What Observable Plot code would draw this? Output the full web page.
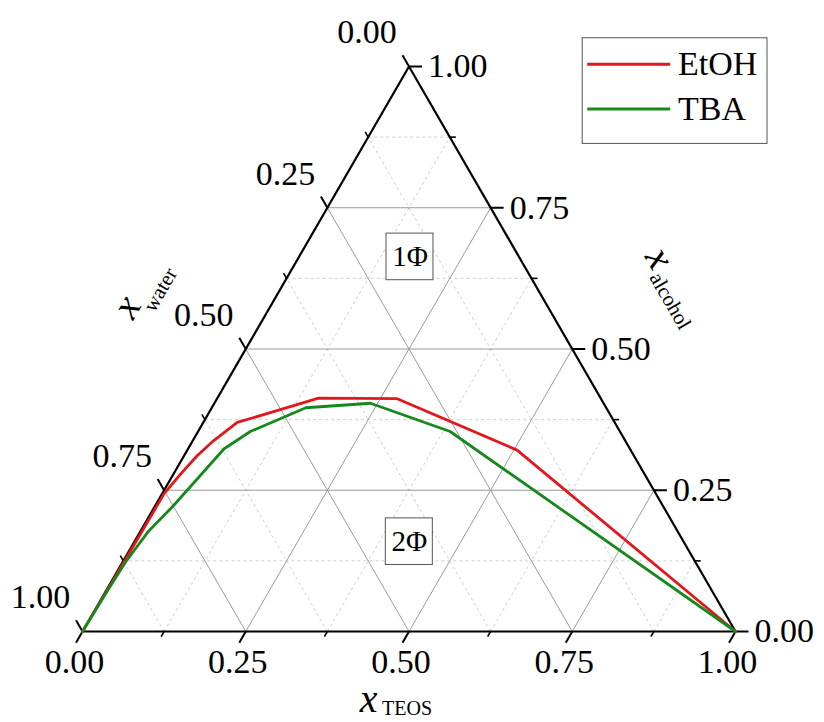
<!DOCTYPE html>
<html><head><meta charset="utf-8">
<script src="https://cdn.jsdelivr.net/npm/d3@7"></script>
<script src="https://cdn.jsdelivr.net/npm/@observablehq/plot@0.6"></script>
<style>html,body{margin:0;padding:0;background:#fff}#chart svg{display:block}</style>
</head><body><div id="chart"></div>
<script>
// ---- data (ternary fractions: TEOS, alcohol; water = 1 - TEOS - alcohol) ----
const tickValues = [0, 0.25, 0.5, 0.75, 1];
const tickLabels = ["0.00", "0.25", "0.50", "0.75", "1.00"];
const minorValues = [0.125, 0.375, 0.625, 0.875];
const gridMajor = [0.25, 0.5, 0.75];
const seriesNames = ["EtOH", "TBA"];
const seriesColors = ["#e3161c", "#17891c"];
const etohTEOS    = [0, 0.002, 0.003, 0.011, 0.020, 0.032, 0.052, 0.155, 0.276, 0.505, 1];
const etohAlcohol = [0, 0.120, 0.244, 0.279, 0.311, 0.338, 0.370, 0.413, 0.412, 0.321, 0];
const tbaTEOS     = [0, 0.002, 0.0045, 0.012, 0.028, 0.055, 0.080, 0.144, 0.239, 0.386, 1];
const tbaAlcohol  = [0, 0.070, 0.123, 0.176, 0.223, 0.323, 0.354, 0.396, 0.404, 0.354, 0];
const phaseLabels = ["1Φ", "2Φ"];
const phaseTEOS = [0.170, 0.421];
const phaseAlcohol = [0.663, 0.159];

// ---- layout ----
const W = 824, H = 722;
const mL = 82, mR = 89, mT = 66, mB = 91;
const side = W - mL - mR;           // px per unit along x
const e = (px) => px / side;        // pixel length -> data units along a side
const X = (t, a) => t + a / 2;      // ternary -> cartesian

// series table
const curves = [];
[[etohTEOS, etohAlcohol], [tbaTEOS, tbaAlcohol]].forEach(([ts, as], i) => {
  ts.forEach((t, j) => curves.push({series: seriesNames[i], x: X(t, as[j]), y: as[j]}));
});

// grid segments
function gridSegs(vals) {
  const out = [];
  for (const v of vals) {
    out.push({x1: X(v, 0), y1: 0, x2: X(v, 1 - v), y2: 1 - v});   // TEOS = v
    out.push({x1: X(0, v), y1: v, x2: X(1 - v, v), y2: v});       // alcohol = v
    out.push({x1: X(v, 0), y1: 0, x2: X(0, v), y2: v});           // water = 1 - v
  }
  return out;
}
const edges = [
  {x1: 0, y1: 0, x2: 1, y2: 0},
  {x1: 1, y1: 0, x2: 0.5, y2: 1},
  {x1: 0.5, y1: 1, x2: 0, y2: 0}
];

// ticks
function tickSegs(vals, len) {
  const d = e(len), out = [];
  for (const v of vals) {
    out.push({x1: X(v, 0), y1: 0, x2: X(v, 0) - d / 2, y2: -d});          // TEOS (bottom)
    out.push({x1: X(1 - v, v), y1: v, x2: X(1 - v, v) + d, y2: v});       // alcohol (right)
    const c = 1 - v;                                                        // water = v
    out.push({x1: c / 2, y1: c, x2: c / 2 - d / 2, y2: c + d});            // water (left)
  }
  return out;
}
const bottomLabels = tickValues.map((v, i) => ({x: X(v, 0), y: 0, label: tickLabels[i]}));
const rightLabels = tickValues.map((v, i) => ({x: X(1 - v, v), y: v, label: tickLabels[i]}));
const leftLabels = tickValues.map((v, i) => ({x: (1 - v) / 2, y: 1 - v, label: tickLabels[i]}));

const phases = phaseLabels.map((l, i) => ({label: l, x: X(phaseTEOS[i], phaseAlcohol[i]), y: phaseAlcohol[i]}));
const bw = e(23.5), bh = 23.3 / (H - mT - mB);

const legend = seriesNames.map((n, i) => ({name: n, color: seriesColors[i], y: i === 0 ? 1.004 : 0.925}));

const serif = "'Liberation Serif', 'Times New Roman', serif";

const chart = Plot.plot({
  width: W, height: H,
  marginLeft: mL, marginRight: mR, marginTop: mT, marginBottom: mB,
  x: {domain: [0, 1], axis: null},
  y: {domain: [0, 1], axis: null},
  style: {background: "#fff", fontFamily: serif, fontSize: "34px", overflow: "visible"},
  marks: [
    Plot.link(gridSegs(minorValues), {x1: "x1", y1: "y1", x2: "x2", y2: "y2", stroke: "#c8c8c8", strokeWidth: 0.9, strokeDasharray: "3,3"}),
    Plot.link(gridSegs(gridMajor), {x1: "x1", y1: "y1", x2: "x2", y2: "y2", stroke: "#9a9a9a", strokeWidth: 1}),
    Plot.link(tickSegs(tickValues, 13), {x1: "x1", y1: "y1", x2: "x2", y2: "y2", stroke: "#000", strokeWidth: 2}),
    Plot.link(tickSegs(minorValues, 6), {x1: "x1", y1: "y1", x2: "x2", y2: "y2", stroke: "#000", strokeWidth: 1.6}),
    Plot.link(edges, {x1: "x1", y1: "y1", x2: "x2", y2: "y2", stroke: "#000", strokeWidth: 2.2}),
    Plot.line(curves, {x: "x", y: "y", z: "series", stroke: (d) => seriesColors[seriesNames.indexOf(d.series)], strokeWidth: 2.8, strokeLinejoin: "round"}),
    // tick labels
    Plot.text(bottomLabels, {x: "x", y: "y", text: "label", dx: -8, dy: 31, fontSize: 34, fill: "#000"}),
    Plot.text(rightLabels, {x: "x", y: "y", text: "label", dx: 19, textAnchor: "start", fontSize: 34, fill: "#000"}),
    Plot.text(leftLabels, {x: "x", y: "y", text: "label", dx: -42, dy: -34, fontSize: 34, fill: "#000"}),
    // axis titles
    Plot.text(["x"], {x: 0.438, y: -0.120, text: (d) => d, fontStyle: "italic", fontSize: 40, fill: "#000"}),
    Plot.text(["TEOS"], {x: 0.497, y: -0.137, text: (d) => d, fontSize: 20, fill: "#000"}),
    Plot.text(["x"], {x: 0.0674, y: 0.575, text: (d) => d, fontStyle: "italic", fontSize: 40, rotate: -60, fill: "#000"}),
    Plot.text(["water"], {x: 0.119, y: 0.605, text: (d) => d, fontSize: 21, rotate: -60, fill: "#000"}),
    Plot.text(["x"], {x: 0.884, y: 0.661, text: (d) => d, fontStyle: "italic", fontSize: 40, rotate: 60, fill: "#000"}),
    Plot.text(["alcohol"], {x: 0.900, y: 0.585, text: (d) => d, fontSize: 21, rotate: 60, fill: "#000"}),
    // phase labels
    Plot.rect(phases, {x1: (d) => d.x - bw, x2: (d) => d.x + bw, y1: (d) => d.y - bh, y2: (d) => d.y + bh, fill: "#fff", stroke: "#555", strokeWidth: 1}),
    Plot.text(phases, {x: "x", y: "y", text: "label", fontSize: 29, fill: "#000"}),
    // legend
    Plot.rect([0], {x1: 0.766, x2: 1.049, y1: 0.863, y2: 1.050, fill: "#fff", stroke: "#555", strokeWidth: 1}),
    Plot.link(legend, {x1: 0.773, x2: 0.900, y1: "y", y2: "y", stroke: "color", strokeWidth: 3}),
    Plot.text(legend, {x: 0.912, y: "y", text: "name", textAnchor: "start", fontSize: 34, fill: "#000"})
  ]
});
document.getElementById("chart").appendChild(chart);
</script>
</body></html>
